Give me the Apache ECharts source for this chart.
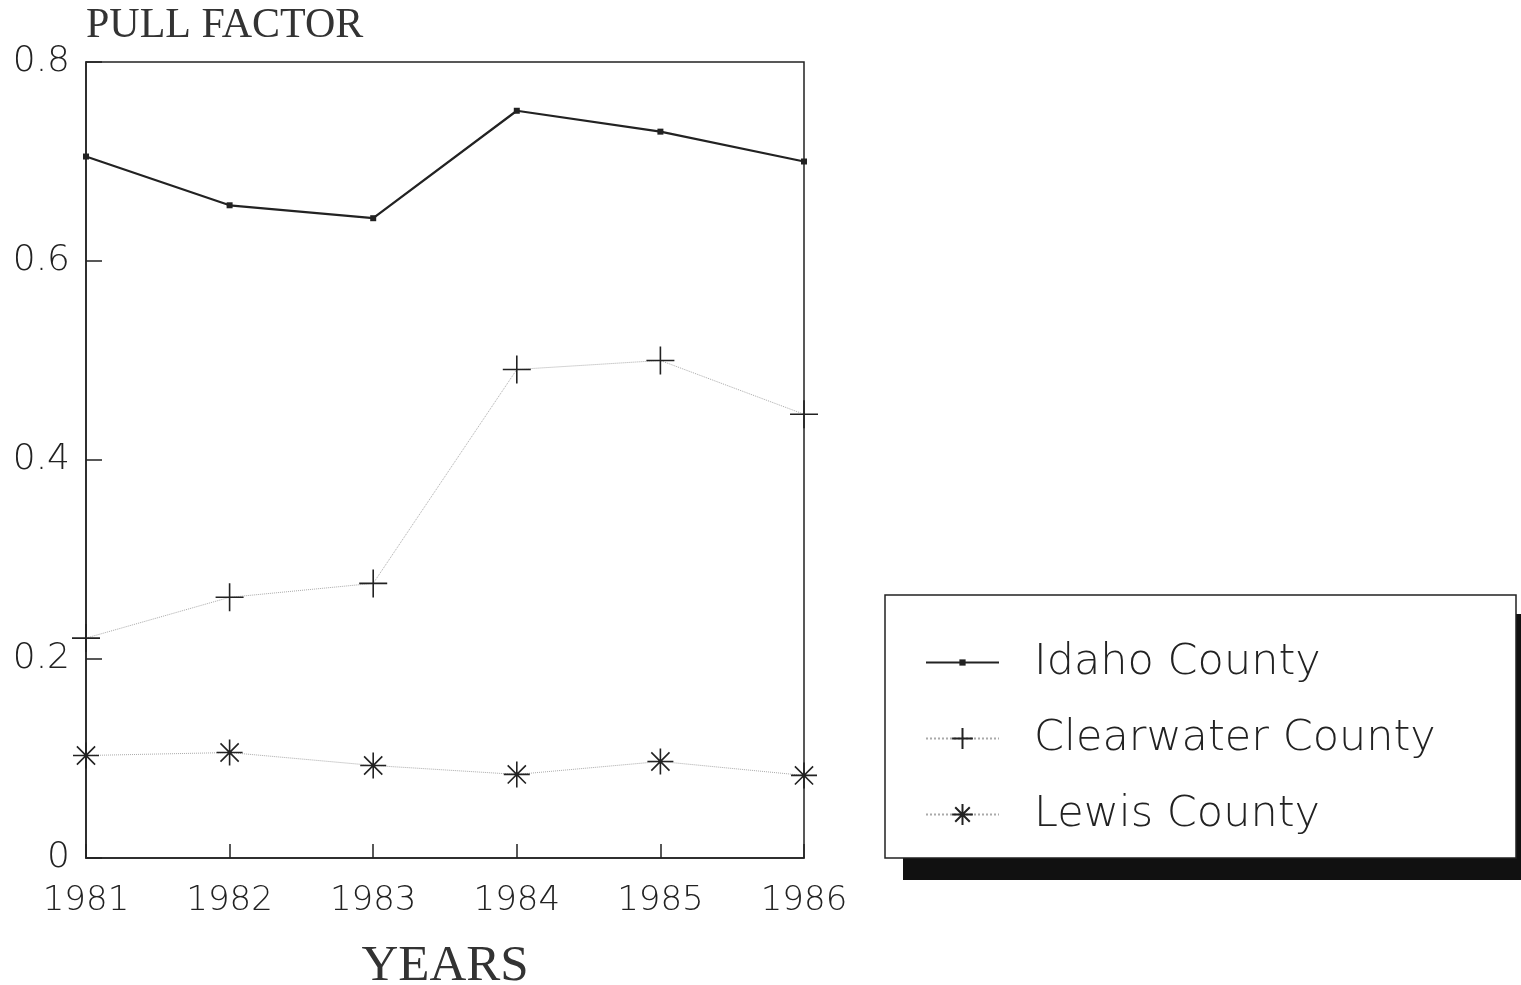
<!DOCTYPE html>
<html>
<head>
<meta charset="utf-8">
<title>Pull factor by county</title>
<script src="https://cdn.jsdelivr.net/npm/echarts@6/dist/echarts.min.js"></script>
<style>
  html, body { margin: 0; padding: 0; background: #fff; }
  #chart { width: 1521px; height: 985px; }
</style>
</head>
<body>
<div id="chart"></div>
<script>
const years = ['1981', '1982', '1983', '1984', '1985', '1986'];
const idaho = [0.705, 0.656, 0.643, 0.751, 0.730, 0.700];
const clearwater = [0.221, 0.262, 0.276, 0.491, 0.500, 0.446];
const lewis = [0.103, 0.106, 0.093, 0.084, 0.097, 0.083];
const yTicks = [0, 0.2, 0.4, 0.6, 0.8];

const ink = '#222';
const labelFont = '"DejaVu Sans", sans-serif';
const titleFont = '"Liberation Serif", "DejaVu Serif", serif';

// small square inside a wider invisible box so it stays small in the legend too
const dotPath = 'path://M0,0M20,20M7,7L13,7L13,13L7,13Z';
const plusPath = 'path://M0,10L20,10M10,0L10,20';
const starPath = 'path://M10,0L10,20M0,10L20,10M3,3L17,17M17,3L3,17';

const chart = echarts.init(document.getElementById('chart'), null, { renderer: 'canvas' });

chart.setOption({
  animation: false,
  backgroundColor: '#fff',
  grid: {
    left: 86,
    right: 717,
    top: 62,
    bottom: 127,
    containLabel: false,
    outerBoundsMode: 'none',
    show: true,
    borderColor: ink,
    borderWidth: 1.5,
    backgroundColor: 'transparent'
  },
  // legend frame with its offset black shadow
  graphic: [
    { type: 'rect', z: 0, shape: { x: 903, y: 614, width: 640, height: 266 }, style: { fill: '#111' } },
    { type: 'rect', z: 1, shape: { x: 885, y: 595, width: 631, height: 263 }, style: { fill: '#fff', stroke: ink, lineWidth: 1.5 } }
  ],
  legend: {
    orient: 'vertical',
    left: 885,
    top: 595,
    padding: [46, 20, 30, 40],
    itemWidth: 73,
    itemHeight: 26,
    itemGap: 33,
    textStyle: {
      color: ink,
      fontFamily: labelFont,
      fontWeight: 200,
      fontSize: 43,
      lineHeight: 40,
      padding: [0, 0, 0, 30]
    },
    data: ['Idaho County', 'Clearwater County', 'Lewis County']
  },
  xAxis: {
    type: 'category',
    data: years,
    boundaryGap: false,
    name: 'YEARS',
    nameLocation: 'middle',
    nameGap: 83,
    nameTextStyle: { color: '#333', fontFamily: titleFont, fontSize: 51 },
    axisLine: { lineStyle: { color: ink, width: 1.5 } },
    axisTick: { inside: true, length: 14, lineStyle: { color: ink, width: 1.5 } },
    axisLabel: { color: ink, fontFamily: labelFont, fontWeight: 200, fontSize: 34, margin: 26 },
    splitLine: { show: false }
  },
  yAxis: {
    type: 'value',
    min: 0,
    max: 0.8,
    interval: 0.2,
    name: 'PULL FACTOR',
    nameLocation: 'end',
    nameGap: 15,
    nameTextStyle: { color: '#333', fontFamily: titleFont, fontSize: 42, align: 'left' },
    axisLine: { show: true, lineStyle: { color: ink, width: 1.5 } },
    axisTick: { show: true, inside: true, length: 16, lineStyle: { color: ink, width: 1.5 } },
    axisLabel: {
      color: ink,
      fontFamily: labelFont,
      fontWeight: 200,
      fontSize: 36,
      margin: 16,
      formatter: function (v) {
        const i = yTicks.findIndex(t => Math.abs(t - v) < 1e-9);
        return i >= 0 ? String(yTicks[i]) : '';
      }
    },
    splitLine: { show: false }
  },
  series: [
    {
      name: 'Idaho County',
      type: 'line',
      data: idaho,
      symbol: dotPath,
      symbolSize: 20,
      lineStyle: { color: ink, width: 2.2 },
      itemStyle: { color: ink }
    },
    {
      name: 'Clearwater County',
      type: 'line',
      data: clearwater,
      symbol: plusPath,
      symbolSize: 28,
      lineStyle: { color: '#aaa', width: 1, type: 'dotted' },
      itemStyle: { color: 'transparent', borderColor: ink, borderWidth: 1.6 }
    },
    {
      name: 'Lewis County',
      type: 'line',
      data: lewis,
      symbol: starPath,
      symbolSize: 26,
      lineStyle: { color: '#aaa', width: 1, type: 'dotted' },
      itemStyle: { color: 'transparent', borderColor: ink, borderWidth: 1.6 }
    }
  ]
});
</script>
</body>
</html>
